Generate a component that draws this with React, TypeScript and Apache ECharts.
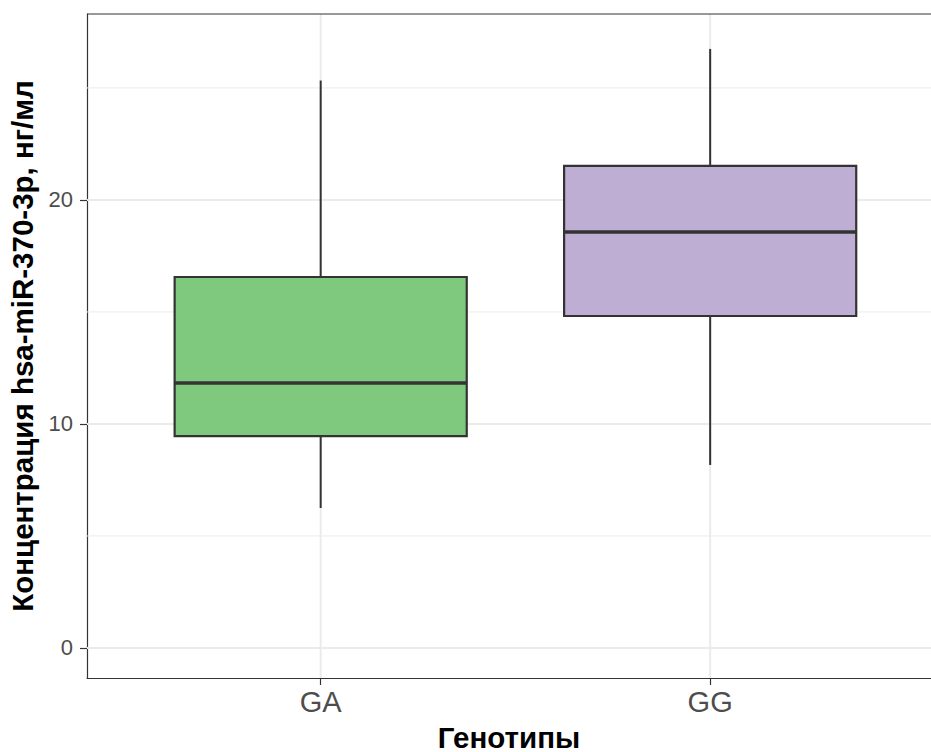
import React, { useEffect, useRef } from "react";
import * as echarts from "echarts";

const categories = ["GA", "GG"];
const whiskerLow = [6.25, 8.17];
const q1 = [9.46, 14.82];
const median = [11.83, 18.57];
const q3 = [16.56, 21.52];
const whiskerHigh = [25.33, 26.74];
const fills = ["#7FC97F", "#BEAED4"];
const yMajor = [0, 10, 20];
const yMinor = [5, 15, 25];

export default function App() {
  const ref = useRef<HTMLDivElement>(null);
  useEffect(() => {
    document.body.style.margin = "0";
    document.body.style.overflow = "hidden";
    const chart = echarts.init(ref.current!, null, { renderer: "svg" });
    const boxData = categories.map((c, i) => [i + 1, whiskerLow[i], q1[i], median[i], q3[i], whiskerHigh[i], i]);
    const hGrid = [...yMajor.map((v) => [v, 1]), ...yMinor.map((v) => [v, 0])];
    const vGrid = categories.map((c, i) => [i + 1]);
    const font = "'Liberation Sans', Arial, sans-serif";
    const stroke = "#333333";
    chart.setOption({
      animation: false,
      backgroundColor: "#ffffff",
      grid: {
        left: 87,
        right: 0,
        top: 14,
        bottom: 74,
        show: false,
        containLabel: false,
        outerBoundsMode: "none",
      },
      xAxis: {
        type: "value",
        min: 0.4,
        max: 2.567,
        name: "Генотипы",
        nameLocation: "middle",
        nameGap: 44,
        nameTextStyle: { fontFamily: font, fontSize: 29.5, fontWeight: "bold", color: "#000" },
        axisLine: { show: true, onZero: false, lineStyle: { color: stroke, width: 1.2 } },
        axisTick: { show: true, length: 7, customValues: [1, 2], lineStyle: { color: stroke, width: 1.2 } },
        axisLabel: {
          customValues: [1, 2],
          formatter: (v: number) => categories[Math.round(v) - 1] ?? "",
          fontFamily: font,
          fontSize: 29,
          color: "#4D4D4D",
          margin: 9,
        },
        splitLine: { show: false },
      },
      yAxis: {
        type: "value",
        min: -1.34,
        max: 28.3,
        name: "Концентрация hsa-miR-370-3p, нг/мл",
        nameLocation: "middle",
        nameGap: 50,
        nameTextStyle: { fontFamily: font, fontSize: 29.5, fontWeight: "bold", color: "#000" },
        axisLine: { show: true, onZero: false, lineStyle: { color: stroke, width: 1.2 } },
        axisTick: { show: true, length: 7, customValues: yMajor, lineStyle: { color: stroke, width: 1.2 } },
        axisLabel: {
          customValues: yMajor,
          fontFamily: font,
          fontSize: 22,
          color: "#4D4D4D",
          margin: 14,
        },
        splitLine: { show: false },
      },
      series: [
        {
          type: "custom",
          z: 1,
          silent: true,
          data: hGrid,
          renderItem: (params: any, api: any) => {
            const cs = params.coordSys;
            const y = api.coord([1, api.value(0)])[1];
            const major = api.value(1) === 1;
            return {
              type: "line",
              shape: { x1: cs.x, y1: y, x2: cs.x + cs.width, y2: y },
              style: { stroke: "#EBEBEB", lineWidth: major ? 2 : 1 },
            };
          },
        },
        {
          type: "custom",
          z: 1,
          silent: true,
          data: vGrid,
          renderItem: (params: any, api: any) => {
            const cs = params.coordSys;
            const x = api.coord([api.value(0), 0])[0];
            return {
              type: "line",
              shape: { x1: x, y1: cs.y, x2: x, y2: cs.y + cs.height },
              style: { stroke: "#EBEBEB", lineWidth: 2 },
            };
          },
        },
        {
          type: "custom",
          z: 4,
          silent: true,
          data: [[0]],
          renderItem: (params: any, api: any) => {
            const cs = params.coordSys;
            return {
              type: "line",
              shape: { x1: cs.x, y1: cs.y, x2: cs.x + cs.width, y2: cs.y },
              style: { stroke, lineWidth: 1.2 },
            };
          },
        },
        {
          type: "custom",
          z: 3,
          data: boxData,
          renderItem: (params: any, api: any) => {
            const x = api.value(0);
            const idx = api.value(6);
            const pLo = api.coord([x, api.value(1)]);
            const pQ1 = api.coord([x, api.value(2)]);
            const pMed = api.coord([x, api.value(3)]);
            const pQ3 = api.coord([x, api.value(4)]);
            const pHi = api.coord([x, api.value(5)]);
            const half = api.size([0.75, 0])[0] / 2;
            const cx = pMed[0];
            return {
              type: "group",
              children: [
                { type: "line", shape: { x1: cx, y1: pHi[1], x2: cx, y2: pQ3[1] }, style: { stroke, lineWidth: 2 } },
                { type: "line", shape: { x1: cx, y1: pQ1[1], x2: cx, y2: pLo[1] }, style: { stroke, lineWidth: 2 } },
                {
                  type: "rect",
                  shape: { x: cx - half, y: pQ3[1], width: 2 * half, height: pQ1[1] - pQ3[1] },
                  style: { fill: fills[idx], stroke, lineWidth: 2.2 },
                },
                {
                  type: "line",
                  shape: { x1: cx - half, y1: pMed[1], x2: cx + half, y2: pMed[1] },
                  style: { stroke, lineWidth: 3.6 },
                },
              ],
            };
          },
        },
      ],
    });
    return () => chart.dispose();
  }, []);
  return <div ref={ref} style={{ width: 931, height: 752, overflow: "hidden" }} />;
}
